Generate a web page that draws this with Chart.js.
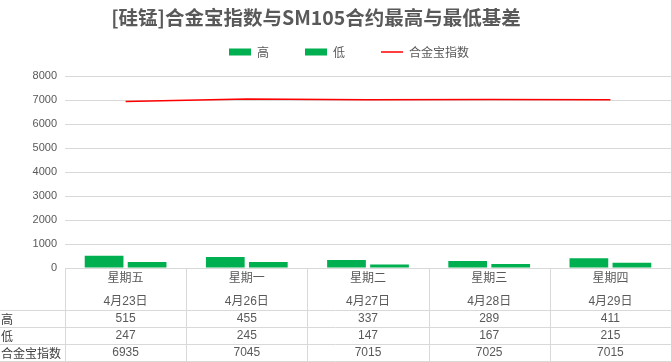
<!DOCTYPE html>
<html><head><meta charset="utf-8">
<script src="https://cdn.jsdelivr.net/npm/chart.js@4/dist/chart.umd.min.js"></script>
<style>html,body{margin:0;padding:0;background:#fff;overflow:hidden}</style>
</head><body>
<canvas id="c" width="671" height="362"></canvas>
<script>
const weekdays = ['星期五','星期一','星期二','星期三','星期四'];
const dates = ['4月23日','4月26日','4月27日','4月28日','4月29日'];
const highValues = [515,455,337,289,411];
const lowValues = [247,245,147,167,215];
const indexValues = [6935,7045,7015,7025,7015];
const rowLabels = ['高','低','合金宝指数'];
const titleText = '[硅锰]合金宝指数与SM105合约最高与最低基差';

const GREEN = '#00B050', RED = '#FF0000', GRID = '#D9D9D9', TXT = '#595959';
const NUMFONT = '"Liberation Sans", "Noto Sans CJK SC", sans-serif';
const CJKFONT = '"Noto Sans CJK SC", sans-serif';

const tablePlugin = {
  id: 'tablePlugin',
  afterLayout(chart) {
    const t = chart.titleBlock;
    if (t) { const d = 316 - (t.left + t.right) / 2; t.left += d; t.right += d; }
    const lg = chart.legend;
    if (lg) {
      const d = 349 - (lg.left + lg.right) / 2; lg.left += d; lg.right += d;
      lg.top = 10; lg.bottom = 72;
    }
  },
  afterDraw(chart) {
    const ctx = chart.ctx, xs = chart.scales.x, area = chart.chartArea;
    const n = weekdays.length;
    const w = (xs.getPixelForValue(1) - xs.getPixelForValue(0));
    ctx.save();
    ctx.strokeStyle = GRID; ctx.lineWidth = 1;
    const rowLines = [310.5, 327.5, 344.5, 361.5];
    ctx.beginPath();
    for (let i = 0; i <= n; i++) {
      const x = Math.round(xs.getPixelForValue(i) - w / 2) + 0.5;
      ctx.moveTo(x, area.bottom); ctx.lineTo(x, 362);
    }
    rowLines.forEach(y => { ctx.moveTo(0, y); ctx.lineTo(chart.width, y); });
    ctx.stroke();
    const rows = [highValues, lowValues, indexValues];
    const rowY = [319, 336, 353];
    ctx.textBaseline = 'middle';
    rows.forEach((arr, r) => {
      ctx.textAlign = 'left'; ctx.fillStyle = '#404040';
      ctx.font = '12px ' + CJKFONT;
      ctx.fillText(rowLabels[r], 1, rowY[r]);
      ctx.textAlign = 'center'; ctx.fillStyle = TXT;
      ctx.font = '12px ' + NUMFONT;
      arr.forEach((v, i) => ctx.fillText(String(v), xs.getPixelForValue(i), rowY[r]));
    });
    ctx.restore();
  }
};

new Chart(document.getElementById('c'), {
  type: 'bar',
  data: {
    labels: weekdays.map((d, i) => [d, dates[i]]),
    datasets: [
      { type: 'line', label: '合金宝指数', data: indexValues, borderColor: RED, backgroundColor: RED,
        borderWidth: 1.5, pointRadius: 0, tension: 0, order: 0 },
      { label: '高', data: highValues, backgroundColor: GREEN, order: 1,
        categoryPercentage: 0.71, barPercentage: 0.9 },
      { label: '低', data: lowValues, backgroundColor: GREEN, order: 2,
        categoryPercentage: 0.71, barPercentage: 0.9 }
    ]
  },
  options: {
    responsive: false,
    animation: false,
    devicePixelRatio: 1,
    layout: { padding: { top: 0, right: -4, left: 0, bottom: 0 } },
    plugins: {
      tooltip: { enabled: false },
      title: {
        display: true, text: titleText, color: TXT,
        font: { size: 19.5, weight: 'bold', family: CJKFONT, lineHeight: 1.2 },
        padding: { top: 6, bottom: 10.6 }
      },
      legend: {
        display: true, position: 'top', maxHeight: 36,
        labels: {
          usePointStyle: true, pointStyleWidth: 22, boxHeight: 7, padding: 36,
          color: TXT, font: { size: 12, family: CJKFONT },
          generateLabels: () => [
            { text: '高', fillStyle: GREEN, strokeStyle: GREEN, lineWidth: 0, pointStyle: 'rect', datasetIndex: 1, hidden: false, fontColor: TXT },
            { text: '低', fillStyle: GREEN, strokeStyle: GREEN, lineWidth: 0, pointStyle: 'rect', datasetIndex: 2, hidden: false, fontColor: TXT },
            { text: '合金宝指数', fillStyle: RED, strokeStyle: RED, lineWidth: 1.5, pointStyle: 'line', datasetIndex: 0, hidden: false, fontColor: TXT }
          ]
        }
      }
    },
    scales: {
      x: {
        grid: { display: false },
        border: { display: true, color: GRID },
        ticks: { color: TXT, font: { size: 12, family: NUMFONT, lineHeight: '23px' }, padding: -9, maxRotation: 0, autoSkip: false },
        afterFit: s => { s.height = 94; }
      },
      y: {
        min: 0, max: 8000,
        grid: { color: GRID, drawTicks: false },
        border: { display: false },
        ticks: { stepSize: 1000, color: TXT, font: { size: 11, family: NUMFONT }, padding: 8,
                 callback: v => String(v) },
        afterFit: s => { s.width = 65; }
      }
    }
  },
  plugins: [tablePlugin]
});
</script>
</body></html>
